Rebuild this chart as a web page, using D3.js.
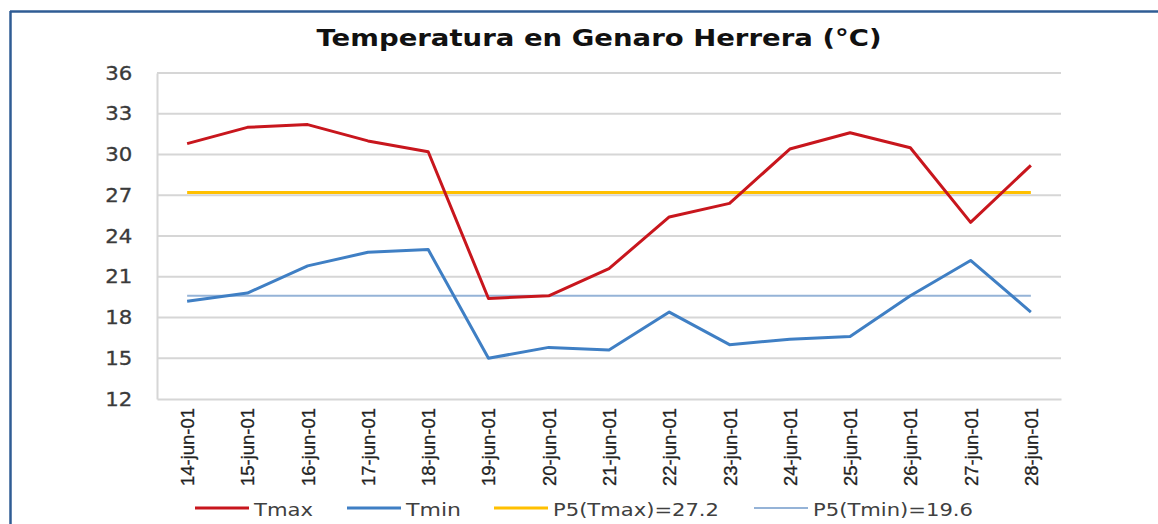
<!DOCTYPE html>
<html>
<head>
<meta charset="utf-8">
<script src="https://cdn.jsdelivr.net/npm/d3@7"></script>
<style>
  html, body { margin: 0; padding: 0; background: #fff; }
  svg { display: block; }
</style>
</head>
<body>
<svg id="chart" width="1158" height="524"></svg>
<script>
const dates = ["14-jun-01","15-jun-01","16-jun-01","17-jun-01","18-jun-01","19-jun-01","20-jun-01","21-jun-01","22-jun-01","23-jun-01","24-jun-01","25-jun-01","26-jun-01","27-jun-01","28-jun-01"];
const tmax = [30.8, 32.0, 32.2, 31.0, 30.2, 19.4, 19.6, 21.6, 25.4, 26.4, 30.4, 31.6, 30.5, 25.0, 29.2];
const tmin = [19.2, 19.8, 21.8, 22.8, 23.0, 15.0, 15.8, 15.6, 18.4, 16.0, 16.4, 16.6, 19.6, 22.2, 18.4];
const p5Tmax = 27.2;
const p5Tmin = 19.6;
const yTicks = [12, 15, 18, 21, 24, 27, 30, 33, 36];
const titleText = "Temperatura en Genaro Herrera (°C)";
const legendLabels = ["Tmax", "Tmin", "P5(Tmax)=27.2", "P5(Tmin)=19.6"];

const svg = d3.select("#chart");
const W = 1158, H = 524;
const m = {left: 157, right: 1061, top: 73, bottom: 399};

// frame
svg.append("line").attr("x1", 10.5).attr("x2", 10.5).attr("y1", 11).attr("y2", H)
  .attr("stroke", "#2f5c94").attr("stroke-width", 2.5);
svg.append("line").attr("x1", 10).attr("x2", W).attr("y1", 11.5).attr("y2", 11.5)
  .attr("stroke", "#2f5c94").attr("stroke-width", 2.5);

const x = d3.scaleBand().domain(dates).range([m.left, m.right]);
const xc = d => x(d) + x.bandwidth() / 2;
const y = d3.scaleLinear().domain([12, 36]).range([m.bottom, m.top]);

// grid
svg.append("g").selectAll("line").data(yTicks.filter(t => t !== 12)).join("line")
  .attr("x1", m.left).attr("x2", m.right)
  .attr("y1", d => y(d)).attr("y2", d => y(d))
  .attr("stroke", "#d6d6d6").attr("stroke-width", 2);

// y axis
const yAxis = svg.append("g").attr("transform", `translate(${m.left},0)`)
  .call(d3.axisLeft(y).tickValues(yTicks).tickSize(0).tickPadding(24));
yAxis.select(".domain").attr("stroke", "#d6d6d6").attr("stroke-width", 2);
yAxis.selectAll("text").attr("font-family", "DejaVu Sans").attr("font-size", 19)
  .attr("fill", "#3a3a3a").attr("stroke", "#3a3a3a").attr("stroke-width", 0.3)
  .attr("transform", "scale(1.12,1)").attr("x", -22);

// x axis
const xAxis = svg.append("g").attr("transform", `translate(0,${m.bottom})`)
  .call(d3.axisBottom(x).tickSize(0));
xAxis.select(".domain").attr("stroke", "#d6d6d6").attr("stroke-width", 2);
xAxis.selectAll("text")
  .attr("font-family", "Liberation Sans").attr("font-size", 18).attr("fill", "#222")
  .attr("stroke", "#222").attr("stroke-width", 0.3)
  .attr("text-anchor", "end").attr("dy", 0)
  .attr("textLength", 78).attr("lengthAdjust", "spacingAndGlyphs")
  .attr("transform", "translate(7,9) rotate(-90)").attr("x", 0).attr("y", 0);

// reference lines
const x0 = xc(dates[0]), x1 = xc(dates[dates.length - 1]);
svg.append("line").attr("x1", x0).attr("x2", x1).attr("y1", y(p5Tmax)).attr("y2", y(p5Tmax))
  .attr("stroke", "#ffc000").attr("stroke-width", 3);
svg.append("line").attr("x1", x0).attr("x2", x1).attr("y1", y(p5Tmin)).attr("y2", y(p5Tmin))
  .attr("stroke", "#95b3d7").attr("stroke-width", 2);

const line = d3.line().x((d, i) => xc(dates[i])).y(d => y(d));
svg.append("path").datum(tmin).attr("d", line).attr("fill", "none")
  .attr("stroke", "#3f7fc4").attr("stroke-width", 3).attr("stroke-linejoin", "round");
svg.append("path").datum(tmax).attr("d", line).attr("fill", "none")
  .attr("stroke", "#c8161d").attr("stroke-width", 3).attr("stroke-linejoin", "round");

// title
svg.append("text").attr("x", 599).attr("y", 46).attr("text-anchor", "middle")
  .attr("font-family", "DejaVu Sans").attr("font-weight", "bold").attr("font-size", 23)
  .attr("fill", "#111").attr("textLength", 565).attr("lengthAdjust", "spacingAndGlyphs")
  .text(titleText);

// legend
const legColors = ["#c8161d", "#3f7fc4", "#ffc000", "#95b3d7"];
const legWidths = [3, 3, 3, 2];
const legX = [195, 347, 494, 754];
const legTextW = [59, 55, 166, 160];
const lg = svg.append("g").selectAll("g").data(legendLabels).join("g")
  .attr("transform", (d, i) => `translate(${legX[i]},508)`);
lg.append("line").attr("x1", 0).attr("x2", 54).attr("y1", 0).attr("y2", 0)
  .attr("stroke", (d, i) => legColors[i]).attr("stroke-width", (d, i) => legWidths[i]);
lg.append("text").attr("x", 59).attr("y", 8)
  .attr("font-family", "DejaVu Sans").attr("font-size", 18).attr("fill", "#404040")
  .attr("textLength", (d, i) => legTextW[i]).attr("lengthAdjust", "spacingAndGlyphs")
  .text(d => d);
</script>
</body>
</html>
